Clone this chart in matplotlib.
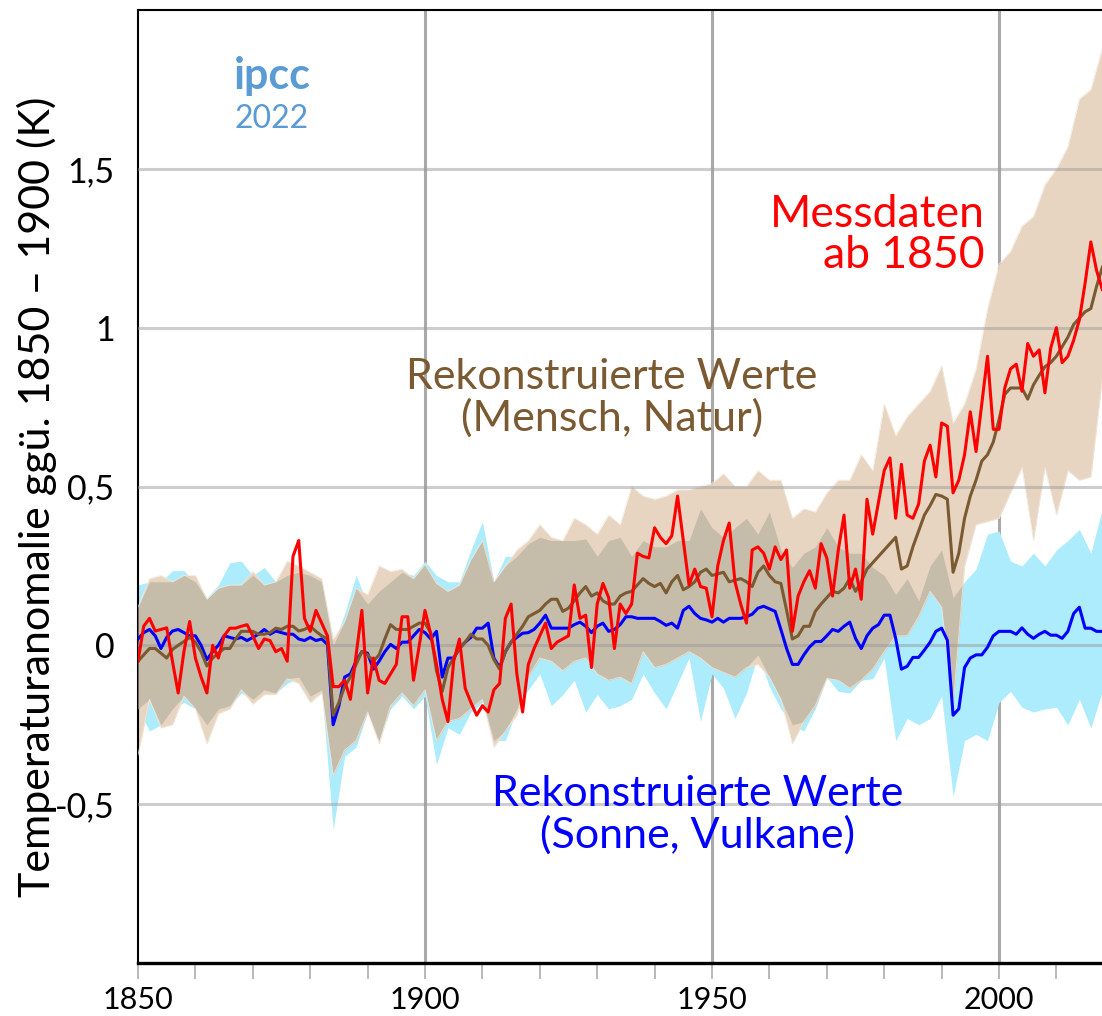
import numpy as np
import matplotlib.pyplot as plt
from matplotlib.ticker import FixedLocator, MultipleLocator

# jährliche Werte 1850-2018, Anomalie ggü. 1850-1900 in K
years = np.arange(1850, 2019)

observed = [
    -0.05, 0.06, 0.085, 0.045, 0.05, 0.055, -0.05, -0.15, -0.02, 0.075,
    -0.04, -0.10, -0.15, 0.0, -0.04, 0.03, 0.054, 0.054, 0.06, 0.065,
    0.03, -0.01, 0.02, 0.015, -0.02, -0.01, -0.05, 0.28, 0.33, 0.085,
    0.044, 0.11, 0.07, 0.03, -0.13, -0.13, -0.11, -0.17, -0.03, 0.11,
    -0.15, -0.04, -0.11, -0.12, -0.09, -0.06, 0.09, 0.09, -0.11, 0.0,
    0.11, 0.035, -0.06, -0.17, -0.24, -0.05, 0.02, -0.135, -0.18, -0.22,
    -0.19, -0.21, -0.14, -0.12, 0.085, 0.13, -0.09, -0.21, -0.06, -0.01,
    0.03, 0.07, -0.01, 0.01, 0.02, 0.03, 0.19, 0.085, 0.095, -0.07,
    0.13, 0.195, 0.15, -0.01, 0.13, 0.1, 0.13, 0.29, 0.28, 0.275,
    0.37, 0.34, 0.32, 0.345, 0.47, 0.33, 0.19, 0.24, 0.185, 0.18,
    0.09, 0.25, 0.33, 0.385, 0.2, 0.13, 0.07, 0.3, 0.31, 0.29,
    0.24, 0.31, 0.27, 0.3, 0.044, 0.155, 0.2, 0.235, 0.18, 0.32,
    0.275, 0.155, 0.3, 0.41, 0.18, 0.24, 0.145, 0.46, 0.35, 0.45,
    0.55, 0.59, 0.4, 0.57, 0.41, 0.4, 0.445, 0.58, 0.63, 0.53,
    0.7, 0.69, 0.48, 0.52, 0.6, 0.735, 0.61, 0.76, 0.91, 0.68,
    0.68, 0.81, 0.87, 0.885, 0.8, 0.95, 0.91, 0.93, 0.795, 0.935,
    1.0, 0.89, 0.91, 0.96, 1.025, 1.14, 1.27, 1.18, 1.12,
]

human_natural = [
    -0.05, -0.03, -0.01, -0.01, -0.025, -0.04, -0.013, 0.0, 0.012, 0.025,
    0.01, -0.02, -0.065, -0.04, -0.025, -0.01, -0.01, 0.02, 0.044, 0.044,
    0.044, 0.035, 0.035, 0.04, 0.054, 0.05, 0.06, 0.06, 0.045, 0.05,
    0.06, 0.044, 0.03, 0.02, -0.22, -0.18, -0.13, -0.10, -0.06, -0.02,
    -0.03, -0.05, -0.03, 0.02, 0.065, 0.05, 0.05, 0.05, 0.06, 0.07,
    0.07, 0.04, -0.08, -0.145, -0.07, -0.04, -0.01, 0.01, 0.035, 0.02,
    0.02, 0.0, -0.045, -0.075, -0.02, 0.01, 0.035, 0.06, 0.09, 0.10,
    0.11, 0.13, 0.145, 0.145, 0.107, 0.117, 0.14, 0.165, 0.185, 0.155,
    0.165, 0.14, 0.13, 0.13, 0.155, 0.165, 0.17, 0.19, 0.21, 0.195,
    0.185, 0.195, 0.165, 0.2, 0.22, 0.175, 0.185, 0.2, 0.23, 0.24,
    0.22, 0.225, 0.23, 0.2, 0.205, 0.21, 0.2, 0.185, 0.23, 0.25,
    0.22, 0.2, 0.195, 0.11, 0.02, 0.03, 0.06, 0.06, 0.107, 0.13,
    0.15, 0.17, 0.165, 0.18, 0.21, 0.17, 0.2, 0.24, 0.26, 0.28,
    0.30, 0.32, 0.34, 0.24, 0.25, 0.31, 0.36, 0.41, 0.44, 0.475,
    0.47, 0.46, 0.23, 0.29, 0.4, 0.47, 0.52, 0.58, 0.6, 0.64,
    0.71, 0.79, 0.81, 0.81, 0.81, 0.775, 0.82, 0.85, 0.877, 0.89,
    0.91, 0.94, 0.97, 1.01, 1.03, 1.05, 1.06, 1.13, 1.19,
]

natural = [
    0.02, 0.04, 0.05, 0.03, -0.01, 0.025, 0.045, 0.05, 0.04, 0.03,
    0.03, 0.0, -0.045, -0.02, 0.0, 0.03, 0.025, 0.02, 0.025, 0.015,
    0.025, 0.035, 0.05, 0.035, 0.045, 0.04, 0.035, 0.035, 0.02, 0.015,
    0.025, 0.015, 0.02, 0.003, -0.25, -0.19, -0.10, -0.09, -0.05, -0.02,
    -0.025, -0.075, -0.05, -0.02, 0.003, -0.01, 0.01, 0.01, 0.03, 0.05,
    0.04, 0.02, 0.044, -0.1, -0.04, -0.04, -0.01, 0.01, 0.025, 0.054,
    0.054, 0.07, -0.04, -0.07, -0.02, 0.01, 0.025, 0.038, 0.04, 0.05,
    0.07, 0.095, 0.054, 0.054, 0.054, 0.054, 0.065, 0.073, 0.06, 0.04,
    0.06, 0.07, 0.044, 0.05, 0.065, 0.09, 0.09, 0.085, 0.085, 0.085,
    0.085, 0.075, 0.063, 0.07, 0.054, 0.11, 0.123, 0.1, 0.085, 0.08,
    0.073, 0.085, 0.073, 0.085, 0.085, 0.085, 0.09, 0.098, 0.117, 0.123,
    0.115, 0.107, 0.05, -0.01, -0.06, -0.06, -0.03, -0.005, 0.012, 0.012,
    0.03, 0.05, 0.044, 0.06, 0.073, 0.022, -0.01, 0.03, 0.054, 0.065,
    0.095, 0.095, 0.022, -0.075, -0.066, -0.038, -0.038, -0.015, 0.01, 0.044,
    0.054, 0.016, -0.22, -0.2, -0.07, -0.04, -0.03, -0.03, -0.006, 0.03,
    0.044, 0.044, 0.044, 0.035, 0.055, 0.035, 0.022, 0.035, 0.044, 0.032,
    0.032, 0.022, 0.044, 0.1, 0.12, 0.054, 0.054, 0.044, 0.044,
]

# Unsicherheitsbereiche, alle zwei Jahre
band_years = np.arange(1850, 2019, 2)

hn_upper = [
    0.12, 0.21, 0.22, 0.2, 0.22, 0.22, 0.145, 0.18, 0.19, 0.19,
    0.233, 0.19, 0.2, 0.265, 0.25, 0.23, 0.21, 0.02, 0.075, 0.18,
    0.16, 0.25, 0.233, 0.24, 0.21, 0.255, 0.195, 0.17, 0.19, 0.27,
    0.33, 0.2, 0.25, 0.3, 0.33, 0.38, 0.34, 0.33, 0.40, 0.38,
    0.35, 0.41, 0.38, 0.5, 0.47, 0.46, 0.47, 0.49, 0.49, 0.5,
    0.51, 0.54, 0.5, 0.5, 0.55, 0.52, 0.52, 0.4, 0.43, 0.42,
    0.48, 0.52, 0.52, 0.6, 0.55, 0.76, 0.66, 0.72, 0.76, 0.8,
    0.88, 0.7, 0.76, 0.87, 1.06, 1.2, 1.24, 1.32, 1.35, 1.45,
    1.5, 1.57, 1.72, 1.75, 1.88,
]
hn_lower = [
    -0.345, -0.17, -0.26, -0.25, -0.16, -0.2, -0.31, -0.215, -0.2, -0.14,
    -0.185, -0.155, -0.155, -0.105, -0.12, -0.18, -0.15, -0.41, -0.33, -0.3,
    -0.21, -0.31, -0.19, -0.15, -0.19, -0.14, -0.3, -0.24, -0.23, -0.2,
    -0.17, -0.32, -0.27, -0.22, -0.1, -0.04, -0.05, -0.08, -0.05, -0.04,
    -0.09, -0.11, -0.1, -0.12, -0.02, -0.07, -0.06, -0.04, -0.02, -0.04,
    -0.07, -0.085, -0.1, -0.07, -0.06, -0.1, -0.17, -0.31, -0.24, -0.19,
    -0.105, -0.11, -0.135, -0.11, -0.075, -0.02, 0.03, 0.03, 0.09, 0.17,
    0.12, -0.19, 0.25, 0.38, 0.39, 0.4, 0.48, 0.56, 0.33, 0.56,
    0.41, 0.55, 0.52, 0.53, 0.84,
]
nat_upper = [
    0.19, 0.2, 0.2, 0.235, 0.235, 0.2, 0.15, 0.19, 0.26, 0.265,
    0.22, 0.245, 0.2, 0.22, 0.23, 0.22, 0.2, 0.0, 0.1, 0.22,
    0.13, 0.17, 0.2, 0.23, 0.22, 0.265, 0.22, 0.2, 0.2, 0.3,
    0.39, 0.2, 0.28, 0.28, 0.32, 0.34, 0.33, 0.33, 0.33, 0.335,
    0.28, 0.33, 0.34, 0.28, 0.33, 0.31, 0.31, 0.33, 0.33, 0.43,
    0.37, 0.34, 0.37, 0.4, 0.35, 0.42, 0.3, 0.245, 0.29, 0.31,
    0.37, 0.31, 0.29, 0.29, 0.245, 0.22, 0.16, 0.21, 0.14, 0.25,
    0.3, 0.15, 0.2, 0.24, 0.35, 0.36, 0.265, 0.25, 0.29, 0.25,
    0.3, 0.33, 0.365, 0.29, 0.43,
]
nat_lower = [
    -0.2, -0.27, -0.25, -0.2, -0.18, -0.2, -0.25, -0.2, -0.19, -0.15,
    -0.17, -0.14, -0.15, -0.12, -0.1, -0.16, -0.14, -0.58, -0.35, -0.32,
    -0.21, -0.3, -0.2, -0.16, -0.2, -0.16, -0.375, -0.26, -0.28, -0.21,
    -0.18, -0.3, -0.3, -0.2, -0.14, -0.09, -0.19, -0.155, -0.11, -0.21,
    -0.155, -0.2, -0.19, -0.17, -0.09, -0.15, -0.2, -0.12, -0.04, -0.24,
    -0.09, -0.135, -0.23, -0.15, -0.03, -0.13, -0.2, -0.25, -0.27, -0.2,
    -0.1, -0.145, -0.15, -0.11, -0.105, -0.04, -0.3, -0.23, -0.25, -0.23,
    -0.16, -0.475, -0.3, -0.28, -0.3, -0.18, -0.145, -0.195, -0.21, -0.2,
    -0.195, -0.25, -0.17, -0.26, -0.145,
]

ytick_vals = [-0.5, 0, 0.5, 1, 1.5]
ytick_labels = ['-0,5', '0', '0,5', '1', '1,5']
xtick_vals = [1850, 1900, 1950, 2000]

TAN = '#e8d5c1'
CYAN = '#acecfc'
OVERLAP = '#c5bca9'
BROWN = '#7b5a32'

plt.rcParams['font.family'] = ['Lato', 'DejaVu Sans']

fig = plt.figure(figsize=(11.02, 10.16), dpi=100)
W, H = 1102, 1016
ax = fig.add_axes([138 / W, 53 / H, 170 * 5.74 / W, 953 / H])
ax.set_xlim(1850, 2020)
ax.set_ylim(-1, 2)

# senkrechte Gitterlinien liegen hinter den Bändern
for x in xtick_vals[1:]:
    ax.axvline(x, color='#a9a9a9', lw=2.2, zorder=0)

hu, hl = np.array(hn_upper), np.array(hn_lower)
nu, nl = np.array(nat_upper), np.array(nat_lower)
ax.fill_between(band_years, nl, nu, color=CYAN, lw=0, zorder=1)
ax.fill_between(band_years, hl, hu, color=TAN, lw=0, zorder=2)
lo = np.maximum(hl, nl)
hi = np.minimum(hu, nu)
ax.fill_between(band_years, lo, hi, where=hi > lo, interpolate=True,
                color=OVERLAP, lw=0, zorder=3)
for edge in (hu, hl):
    ax.plot(band_years, edge, color='#f1e8dd', lw=0.7, alpha=0.8, zorder=3.5)

# waagrechte Gitterlinien über den Bändern
for y in ytick_vals:
    ax.axhline(y, color='#9c9c9c', lw=2.2, alpha=0.5, zorder=4)

ax.plot(years, natural, color='#0000ff', lw=2.2, zorder=5)
ax.plot(years, human_natural, color=BROWN, lw=2.2, zorder=6)
ax.plot(years, observed, color='#ff0000', lw=2.2, zorder=7)

ax.yaxis.set_major_locator(FixedLocator(ytick_vals))
ax.set_yticklabels(ytick_labels)
ax.tick_params(axis='y', length=0, pad=17, labelsize=24.5)

ax.xaxis.set_major_locator(FixedLocator(xtick_vals))
ax.xaxis.set_minor_locator(MultipleLocator(10))
ax.set_xticklabels([str(v) for v in xtick_vals])
ax.tick_params(axis='x', which='both', direction='out', length=11.5,
               width=1.1, color='#a6a6a6', pad=5, labelsize=22)
ax.xaxis.get_major_ticks()[0].tick1line.set_color('black')

for side in ('left', 'top'):
    ax.spines[side].set_linewidth(1.5)
ax.spines['bottom'].set_linewidth(2.4)
ax.spines['right'].set_visible(False)

fig.text(37 / W, 1 - 497 / H, 'Temperaturanomalie ggü. 1850 – 1900 (K)',
         rotation=90, ha='center', va='center', fontsize=31)

fig.text(985 / W, 1 - 235 / H, 'Messdaten\nab 1850', color='#ff0000',
         ha='right', va='center', multialignment='right', fontsize=32,
         linespacing=1.0)
fig.text(612 / W, 1 - 398 / H, 'Rekonstruierte Werte\n(Mensch, Natur)',
         color=BROWN, ha='center', va='center', multialignment='center',
         fontsize=31, linespacing=1.05)
fig.text(698 / W, 1 - 815 / H, 'Rekonstruierte Werte\n(Sonne, Vulkane)',
         color='#0000ff', ha='center', va='center', multialignment='center',
         fontsize=31, linespacing=1.05)

fig.text(272 / W, 1 - 76 / H, 'ipcc', color='#5b9bd5', ha='center',
         va='center', fontsize=31, fontweight='bold')
fig.text(272 / W, 1 - 119 / H, '2022', color='#5b9bd5', ha='center',
         va='center', fontsize=23)

fig.savefig('out.png', dpi=100)
